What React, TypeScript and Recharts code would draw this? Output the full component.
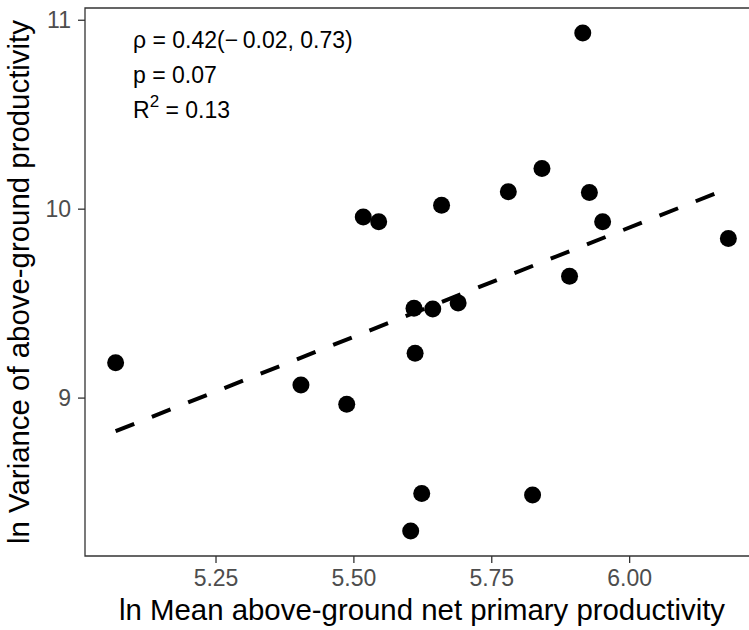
import React from 'react'
import {
  ScatterChart, Scatter, XAxis, YAxis, ReferenceLine, ReferenceArea, Label,
} from 'recharts'

// ln mean above-ground NPP per site
const lnMeanNpp = [
  5.068, 5.404, 5.487, 5.517, 5.545, 5.659, 5.78, 5.841, 5.927, 5.951,
  5.891, 5.609, 5.643, 5.689, 5.611, 5.915, 6.179, 5.623, 5.824, 5.603,
]
// ln variance of above-ground productivity, same site order
const lnVarNpp = [
  9.187, 9.069, 8.967, 9.959, 9.933, 10.021, 10.092, 10.215, 10.088, 9.933,
  9.645, 9.475, 9.471, 9.504, 9.237, 10.933, 9.845, 8.495, 8.487, 8.296,
]

const xTicks = [5.25, 5.5, 5.75, 6.0]
const yTicks = [9, 10, 11]

const statLines = ['ρ = 0.42(−\u20090.02, 0.73)', 'p = 0.07']
const r2Label = '0.13'

const points = lnMeanNpp.map((x, i) => ({ x, y: lnVarNpp[i] }))

// ordinary least squares fit for the dashed trend line
function fitLine(xs: number[], ys: number[]) {
  const n = xs.length
  const mx = xs.reduce((a, b) => a + b, 0) / n
  const my = ys.reduce((a, b) => a + b, 0) / n
  let sxy = 0
  let sxx = 0
  xs.forEach((x, i) => {
    sxy += (x - mx) * (ys[i] - my)
    sxx += (x - mx) * (x - mx)
  })
  const slope = sxy / sxx
  return { slope, intercept: my - slope * mx }
}

// ggplot-style 5% padding on each side
function expand(vals: number[]): [number, number] {
  const lo = Math.min(...vals)
  const hi = Math.max(...vals)
  const pad = (hi - lo) * 0.05
  return [lo - pad, hi + pad]
}

const xDomain = expand(lnMeanNpp)
const yDomain = expand(lnVarNpp)
const fit = fitLine(lnMeanNpp, lnVarNpp)
const xMin = Math.min(...lnMeanNpp)
const xMax = Math.max(...lnMeanNpp)

const FONT = '"Liberation Sans", Arial, sans-serif'
const tickStyle = { fontSize: 23, fill: '#4d4d4d', fontFamily: FONT }

function Dot(props: any) {
  return <circle cx={props.cx} cy={props.cy} r={8.5} fill="#000" />
}

function XTitle(props: any) {
  const { x, y, width, height } = props.viewBox
  return (
    <text x={x + width / 2} y={y + height - 10} textAnchor="middle"
      fontSize={29.4} fontFamily={FONT} fill="#000">
      ln Mean above-ground net primary productivity
    </text>
  )
}

function YTitle(props: any) {
  const { x, y, height } = props.viewBox
  const cx = x + 29
  const cy = y + height / 2
  return (
    <text x={cx} y={cy} transform={`rotate(-90 ${cx} ${cy})`} textAnchor="middle"
      fontSize={29.4} fontFamily={FONT} fill="#000">
      ln Variance of above-ground productivity
    </text>
  )
}

export default function App() {
  return (
    <div style={{ position: 'absolute', left: 0, top: 0, width: 749, height: 630, overflow: 'hidden', background: '#fff' }}>
      <ScatterChart width={770} height={630} margin={{ top: 8, right: 11, bottom: 0, left: 0 }}>
        <XAxis
          type="number"
          dataKey="x"
          domain={xDomain}
          ticks={xTicks}
          allowDataOverflow
          axisLine={false}
          tickLine={{ stroke: '#333', strokeWidth: 1.3 }}
          tickSize={7}
          tickMargin={7}
          tick={tickStyle}
          tickFormatter={(v: number) => v.toFixed(2)}
          height={74}
        >
          <Label content={<XTitle />} />
        </XAxis>
        <YAxis
          type="number"
          dataKey="y"
          domain={yDomain}
          ticks={yTicks}
          allowDataOverflow
          axisLine={false}
          tickLine={{ stroke: '#333', strokeWidth: 1.3 }}
          tickSize={7}
          tickMargin={7}
          tick={tickStyle}
          width={85}
        >
          <Label content={<YTitle />} />
        </YAxis>
        <ReferenceArea
          x1={xDomain[0]} x2={xDomain[1]} y1={yDomain[0]} y2={yDomain[1]}
          fill="none" stroke="#333" strokeWidth={1.3} fillOpacity={0}
        />
        <Scatter data={points} shape={<Dot />} isAnimationActive={false} />
        <ReferenceLine
          segment={[
            { x: xMin, y: fit.intercept + fit.slope * xMin },
            { x: xMax, y: fit.intercept + fit.slope * xMax },
          ]}
          stroke="#000"
          strokeWidth={4}
          strokeDasharray="20 19"
        />
      </ScatterChart>
      <svg width={749} height={630} style={{ position: 'absolute', left: 0, top: 0, pointerEvents: 'none' }}>
        <g fontFamily={FONT} fontSize={23} fill="#000">
          {statLines.map((t, i) => (
            <text key={t} x={133} y={48 + i * 35}>{t}</text>
          ))}
          <text x={133} y={118}>
            R<tspan dy={-11} fontSize={17}>2</tspan>
            <tspan dy={11}> = {r2Label}</tspan>
          </text>
        </g>
      </svg>
    </div>
  )
}
